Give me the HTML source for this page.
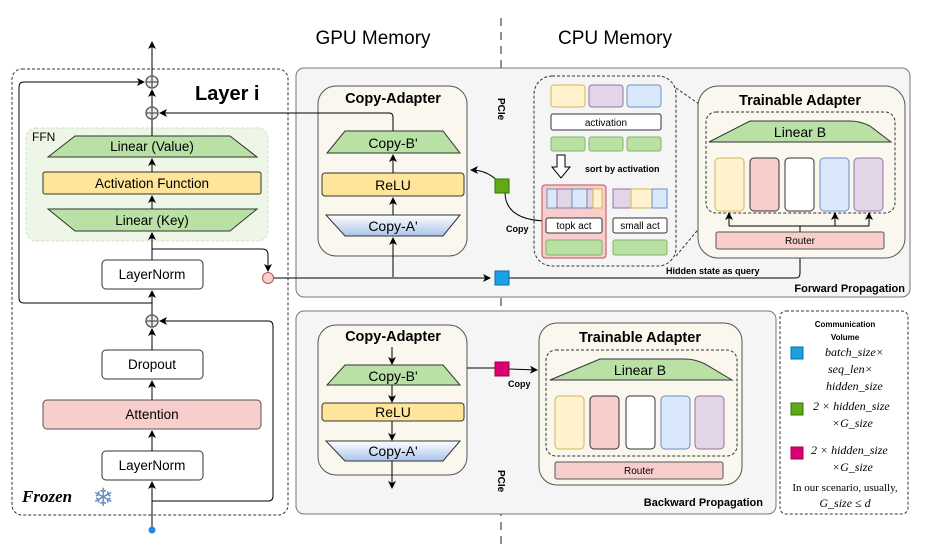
<!DOCTYPE html>
<html><head><meta charset="utf-8"><style>
html,body{margin:0;padding:0;background:#fff}
svg{display:block}
text{font-family:"Liberation Sans",sans-serif;fill:#000}
.b{font-weight:bold}
.m{font-family:"Liberation Serif",serif;font-style:italic}
</style></head><body>
<svg width="942" height="547" viewBox="0 0 942 547" xmlns="http://www.w3.org/2000/svg">
<defs>
<marker id="a" markerWidth="8" markerHeight="8" refX="7" refY="4" orient="auto" markerUnits="userSpaceOnUse"><path d="M0,0 L8,4 L0,8 L2,4 z" fill="#000"/></marker>
<linearGradient id="g" x1="0" y1="0" x2="0" y2="1"><stop offset="0" stop-color="#ffffff"/><stop offset="1" stop-color="#a9c4eb"/></linearGradient>
</defs>
<line x1="501" y1="18" x2="501" y2="547" stroke="#555" stroke-width="1.3" stroke-dasharray="8,6"/>
<text x="373" y="44" font-size="19" text-anchor="middle">GPU Memory</text>
<text x="615" y="44" font-size="19" text-anchor="middle">CPU Memory</text>

<rect x="12" y="69" width="276" height="446" rx="10" fill="none" stroke="#333" stroke-dasharray="3,2"/>
<text x="195" y="100" font-size="20" class="b">Layer i</text>
<line x1="152" y1="76" x2="152" y2="42" stroke="#000" marker-end="url(#a)"/>
<rect x="26" y="128" width="242" height="113" rx="10" fill="#eef6e8" stroke="#cfe3c2" stroke-dasharray="3,2"/>
<text x="32" y="141" font-size="12">FFN</text>
<path d="M75,136 L230,136 L257,157 L48,157 z" fill="#b9e0a5" stroke="#333"/>
<text x="152" y="151" font-size="13.5" text-anchor="middle">Linear (Value)</text>
<rect x="43" y="172" width="218" height="22" rx="2" fill="#ffe599" stroke="#333"/>
<text x="152" y="188" font-size="13.5" text-anchor="middle">Activation Function</text>
<path d="M48,209 L257,209 L230,231 L75,231 z" fill="#b9e0a5" stroke="#333"/>
<text x="152" y="225" font-size="13.5" text-anchor="middle">Linear (Key)</text>
<rect x="102" y="260" width="101" height="29" rx="4" fill="#fff" stroke="#333"/>
<text x="152" y="279" font-size="13.5" text-anchor="middle">LayerNorm</text>
<line x1="152" y1="260" x2="152" y2="233" stroke="#000" marker-end="url(#a)"/>
<line x1="152" y1="209" x2="152" y2="196" stroke="#000" marker-end="url(#a)"/>
<line x1="152" y1="172" x2="152" y2="159" stroke="#000" marker-end="url(#a)"/>
<line x1="152" y1="136" x2="152" y2="119" stroke="#000"/>
<line x1="152" y1="107" x2="152" y2="90" stroke="#000" marker-end="url(#a)"/>
<path d="M152,249 L262,249 Q268,249 268,255 L268,271" fill="none" stroke="#000" marker-end="url(#a)"/>
<circle cx="268" cy="278" r="5.5" fill="#f8cecc" stroke="#b85450"/>
<path d="M152,303 L24,303 Q19,303 19,298 L19,87 Q19,82 24,82 L144,82" fill="none" stroke="#000" marker-end="url(#a)"/>
<line x1="152" y1="315" x2="152" y2="291" stroke="#000" marker-end="url(#a)"/>
<g fill="#eee" stroke="#555" stroke-width="1.3">
<circle cx="152" cy="82" r="6"/><circle cx="152" cy="113" r="6"/><circle cx="152" cy="321" r="6"/></g>
<g stroke="#555" stroke-width="1.3"><path d="M146,82h12M152,76v12M146,113h12M152,107v12M146,321h12M152,315v12"/></g>
<rect x="102" y="350" width="101" height="29" rx="4" fill="#fff" stroke="#333"/>
<text x="152" y="369" font-size="13.5" text-anchor="middle">Dropout</text>
<rect x="43" y="400" width="218" height="29" rx="4" fill="#f8cecc" stroke="#555"/>
<text x="152" y="419" font-size="13.5" text-anchor="middle">Attention</text>
<rect x="102" y="451" width="101" height="29" rx="4" fill="#fff" stroke="#333"/>
<text x="152" y="470" font-size="13.5" text-anchor="middle">LayerNorm</text>
<line x1="152" y1="350" x2="152" y2="329" stroke="#000" marker-end="url(#a)"/>
<line x1="152" y1="400" x2="152" y2="381" stroke="#000" marker-end="url(#a)"/>
<line x1="152" y1="451" x2="152" y2="431" stroke="#000" marker-end="url(#a)"/>
<line x1="152" y1="530" x2="152" y2="482" stroke="#000" marker-end="url(#a)"/>
<circle cx="152" cy="530" r="3.5" fill="#1e88e5"/>
<path d="M152,501 L268,501 Q273,501 273,496 L273,326 Q273,321 268,321 L160,321" fill="none" stroke="#000" marker-end="url(#a)"/>
<text x="22" y="502" font-size="17" class="b" style="font-family:'Liberation Serif',serif;font-style:italic">Frozen</text>
<text x="103" y="506" font-size="25" text-anchor="middle" style="fill:#6c8ebf;font-family:'DejaVu Sans',sans-serif">❄</text>

<rect x="296" y="68" width="614" height="229" rx="8" fill="#f5f5f5" stroke="#777"/>
<rect x="318" y="86" width="149" height="170" rx="18" fill="#f9f7ee" stroke="#555"/>
<text x="393" y="103" font-size="14.5" class="b" text-anchor="middle">Copy-Adapter</text>
<path d="M345,131 L443,131 L460,153 L327,153 z" fill="#b9e0a5" stroke="#333"/>
<text x="393" y="148" font-size="14" text-anchor="middle">Copy-B'</text>
<rect x="322" y="173" width="142" height="23" rx="3" fill="#ffe599" stroke="#333"/>
<text x="393" y="190" font-size="14" text-anchor="middle">ReLU</text>
<path d="M326,215 L460,215 L443,236 L345,236 z" fill="url(#g)" stroke="#333"/>
<text x="393" y="231" font-size="14" text-anchor="middle">Copy-A'</text>
<line x1="393" y1="173" x2="393" y2="155" stroke="#000" marker-end="url(#a)"/>
<line x1="393" y1="215" x2="393" y2="198" stroke="#000" marker-end="url(#a)"/>
<line x1="393" y1="277" x2="393" y2="238" stroke="#000" marker-end="url(#a)"/>
<path d="M393,131 L393,117 Q393,113 389,113 L160,113" fill="none" stroke="#000" marker-end="url(#a)"/>
<line x1="274" y1="278" x2="490" y2="278" stroke="#000" marker-end="url(#a)"/>
<path d="M508,278 L796,278 Q800,278 800,273 L800,252" fill="none" stroke="#000" marker-end="url(#a)"/>
<rect x="495" y="271" width="14" height="14" fill="#1ba1e2" stroke="#006eaf"/>
<path d="M502,186 Q490,170 471,170" fill="none" stroke="#000" marker-end="url(#a)"/>
<path d="M505,192 Q505,220 546,221" fill="none" stroke="#000"/>
<rect x="495" y="179" width="14" height="14" fill="#60a917" stroke="#2d7600"/>
<text x="506" y="232" font-size="9" class="b">Copy</text>
<text x="0" y="0" font-size="10" class="b" transform="translate(498,98) rotate(90)">PCIe</text>

<rect x="534" y="76" width="142" height="190" rx="18" fill="none" stroke="#333" stroke-dasharray="3,2"/>
<line x1="676" y1="88" x2="712" y2="113" stroke="#333" stroke-dasharray="3,2"/>
<line x1="676" y1="256" x2="712" y2="213" stroke="#333" stroke-dasharray="3,2"/>
<rect x="551" y="85" width="34" height="22" rx="3" fill="#fff2cc" stroke="#d6b656"/>
<rect x="589" y="85" width="34" height="22" rx="3" fill="#e1d5e7" stroke="#9673a6"/>
<rect x="627" y="85" width="34" height="22" rx="3" fill="#dae8fc" stroke="#6c8ebf"/>
<rect x="551" y="114" width="110" height="16" rx="2" fill="#fff" stroke="#333"/>
<text x="606" y="126" font-size="10" text-anchor="middle">activation</text>
<rect x="551" y="137" width="34" height="14" rx="2" fill="#b9e0a5" stroke="#82b366"/>
<rect x="589" y="137" width="34" height="14" rx="2" fill="#b9e0a5" stroke="#82b366"/>
<rect x="627" y="137" width="34" height="14" rx="2" fill="#b9e0a5" stroke="#82b366"/>
<path d="M557,155 h8 v12 h5 l-9,11 l-9,-11 h5 z" fill="#fff" stroke="#000"/>
<text x="585" y="172" font-size="9" class="b">sort by activation</text>
<rect x="542" y="185" width="64" height="73" rx="3" fill="#f8cecc" stroke="#b85450"/>
<rect x="547" y="189" width="10" height="19" fill="#dae8fc" stroke="#6c8ebf"/>
<rect x="557" y="189" width="15" height="19" fill="#e1d5e7" stroke="#9673a6"/>
<rect x="572" y="189" width="15" height="19" fill="#dae8fc" stroke="#6c8ebf"/>
<rect x="587" y="189" width="6" height="19" fill="#e1d5e7" stroke="#9673a6"/>
<rect x="593" y="189" width="9" height="19" fill="#fff2cc" stroke="#d6b656"/>
<rect x="546" y="218" width="56" height="15" rx="2" fill="#fff" stroke="#333"/>
<text x="574" y="229" font-size="10" text-anchor="middle">topk act</text>
<rect x="546" y="240" width="56" height="15" rx="2" fill="#b9e0a5" stroke="#82b366"/>
<rect x="613" y="189" width="18" height="19" fill="#e1d5e7" stroke="#9673a6"/>
<rect x="631" y="189" width="21" height="19" fill="#fff2cc" stroke="#d6b656"/>
<rect x="652" y="189" width="15" height="19" fill="#dae8fc" stroke="#6c8ebf"/>
<rect x="613" y="218" width="54" height="15" rx="2" fill="#fff" stroke="#333"/>
<text x="640" y="229" font-size="10" text-anchor="middle">small act</text>
<rect x="613" y="240" width="54" height="15" rx="2" fill="#b9e0a5" stroke="#82b366"/>

<rect x="698" y="86" width="207" height="172" rx="20" fill="#f9f7ee" stroke="#555"/>
<text x="800" y="105" font-size="14.5" class="b" text-anchor="middle">Trainable Adapter</text>
<rect x="706" y="112" width="189" height="101" rx="10" fill="none" stroke="#333" stroke-dasharray="3,2"/>
<path d="M750,121 L850,121 Q860,121 870,126 L891,142 L709,142 z" fill="#b9e0a5" stroke="#333"/>
<text x="800" y="137" font-size="14" text-anchor="middle">Linear B</text>
<rect x="715" y="158" width="29" height="53" rx="4" fill="#fff2cc" stroke="#d6b656"/>
<rect x="750" y="158" width="29" height="53" rx="4" fill="#f8cecc" stroke="#333"/>
<rect x="785" y="158" width="29" height="53" rx="4" fill="#fff" stroke="#333"/>
<rect x="820" y="158" width="29" height="53" rx="4" fill="#dae8fc" stroke="#6c8ebf"/>
<rect x="854" y="158" width="29" height="53" rx="4" fill="#e1d5e7" stroke="#9673a6"/>
<rect x="716" y="232" width="168" height="17" rx="2" fill="#f8cecc" stroke="#555"/>
<text x="800" y="244" font-size="10" text-anchor="middle">Router</text>
<path d="M800,232 V226 M729,226 H869" stroke="#000" fill="none"/>
<line x1="729" y1="226" x2="729" y2="213" stroke="#000" marker-end="url(#a)"/>
<line x1="835" y1="226" x2="835" y2="213" stroke="#000" marker-end="url(#a)"/>
<line x1="869" y1="226" x2="869" y2="213" stroke="#000" marker-end="url(#a)"/>
<text x="666" y="274" font-size="9" class="b">Hidden state as query</text>
<text x="905" y="292" font-size="11" class="b" text-anchor="end">Forward Propagation</text>

<rect x="296" y="311" width="480" height="203" rx="8" fill="#f5f5f5" stroke="#777"/>
<rect x="318" y="325" width="149" height="150" rx="18" fill="#f9f7ee" stroke="#555"/>
<text x="393" y="341" font-size="14.5" class="b" text-anchor="middle">Copy-Adapter</text>
<path d="M345,365 L443,365 L460,385 L327,385 z" fill="#b9e0a5" stroke="#333"/>
<text x="393" y="381" font-size="14" text-anchor="middle">Copy-B'</text>
<rect x="322" y="403" width="142" height="18" rx="3" fill="#ffe599" stroke="#333"/>
<text x="393" y="417" font-size="14" text-anchor="middle">ReLU</text>
<path d="M326,441 L460,441 L443,461 L345,461 z" fill="url(#g)" stroke="#333"/>
<text x="393" y="456" font-size="14" text-anchor="middle">Copy-A'</text>
<line x1="392" y1="347" x2="392" y2="364" stroke="#000" marker-end="url(#a)"/>
<line x1="392" y1="385" x2="392" y2="402" stroke="#000" marker-end="url(#a)"/>
<line x1="392" y1="421" x2="392" y2="440" stroke="#000" marker-end="url(#a)"/>
<line x1="392" y1="461" x2="392" y2="488" stroke="#000" marker-end="url(#a)"/>
<line x1="467" y1="368" x2="495" y2="368" stroke="#000"/>
<line x1="509" y1="369" x2="537" y2="370" stroke="#000" marker-end="url(#a)"/>
<rect x="495" y="362" width="14" height="14" fill="#d80073" stroke="#a50040"/>
<text x="508" y="387" font-size="9" class="b">Copy</text>
<text x="0" y="0" font-size="10" class="b" transform="translate(498,470) rotate(90)">PCIe</text>
<rect x="539" y="323" width="203" height="162" rx="18" fill="#f9f7ee" stroke="#555"/>
<text x="640" y="342" font-size="14.5" class="b" text-anchor="middle">Trainable Adapter</text>
<rect x="546" y="350" width="191" height="106" rx="10" fill="none" stroke="#333" stroke-dasharray="3,2"/>
<path d="M600,359 L685,359 Q695,359 705,364 L732,380 L550,380 z" fill="#b9e0a5" stroke="#333"/>
<text x="640" y="375" font-size="14" text-anchor="middle">Linear B</text>
<rect x="555" y="396" width="29" height="53" rx="4" fill="#fff2cc" stroke="#d6b656"/>
<rect x="590" y="396" width="29" height="53" rx="4" fill="#f8cecc" stroke="#333"/>
<rect x="626" y="396" width="29" height="53" rx="4" fill="#fff" stroke="#333"/>
<rect x="661" y="396" width="29" height="53" rx="4" fill="#dae8fc" stroke="#6c8ebf"/>
<rect x="695" y="396" width="29" height="53" rx="4" fill="#e1d5e7" stroke="#9673a6"/>
<rect x="555" y="462" width="168" height="17" rx="2" fill="#f8cecc" stroke="#555"/>
<text x="639" y="474" font-size="10" text-anchor="middle">Router</text>
<text x="763" y="506" font-size="11" class="b" text-anchor="end">Backward Propagation</text>

<rect x="780" y="311" width="128" height="203" rx="6" fill="#fff" stroke="#333" stroke-dasharray="3,2"/>
<text x="845" y="327" font-size="8" class="b" text-anchor="middle">Communication</text>
<text x="845" y="340" font-size="8" class="b" text-anchor="middle">Volume</text>
<rect x="791" y="347" width="12" height="12" fill="#1ba1e2" stroke="#006eaf"/>
<rect x="791" y="403" width="12" height="12" fill="#60a917" stroke="#2d7600"/>
<rect x="791" y="447" width="12" height="12" fill="#d80073" stroke="#a50040"/>
<g font-size="12" style="font-family:'Liberation Serif',serif">
<text x="825" y="356" class="m">batch_size×</text>
<text x="828" y="373" class="m">seq_len×</text>
<text x="826" y="390" class="m">hidden_size</text>
<text x="813" y="410" class="m">2 × hidden_size</text>
<text x="832" y="427" class="m">×G_size</text>
<text x="811" y="454" class="m">2 × hidden_size</text>
<text x="832" y="471" class="m">×G_size</text>
<text x="845" y="491" text-anchor="middle" font-size="11" style="font-family:'Liberation Serif',serif">In our scenario, usually,</text>
<text x="845" y="507" text-anchor="middle" class="m">G_size ≤ d</text>
</g>
</svg>
</body></html>
